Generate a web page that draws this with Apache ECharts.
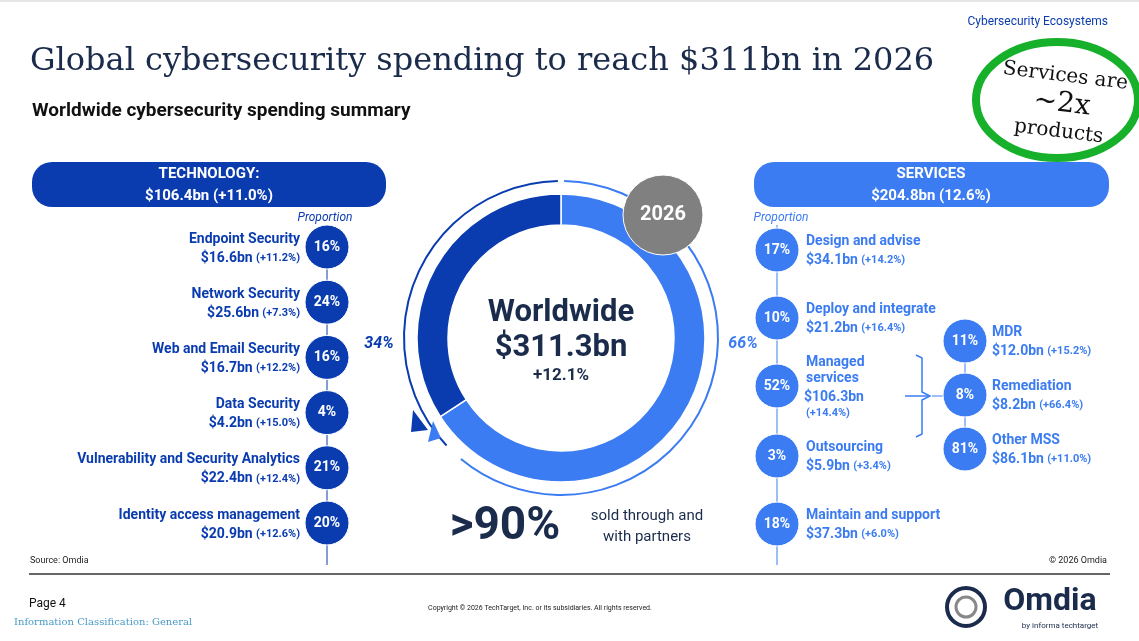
<!DOCTYPE html>
<html><head><meta charset="utf-8">
<script src="https://cdn.jsdelivr.net/npm/echarts@6/dist/echarts.min.js"></script>
<style>html,body{margin:0;padding:0;background:#fff}#c{width:1139px;height:641px}</style>
</head><body><div id="c"></div>
<script>
const segNames = ['Services', 'Technology'];
const segValues = [204.8, 106.4];
const segPct = ['66%', '34%'];
const techNames = ['Endpoint Security','Network Security','Web and Email Security','Data Security','Vulnerability and Security Analytics','Identity access management'];
const techValues = ['$16.6bn','$25.6bn','$16.7bn','$4.2bn','$22.4bn','$20.9bn'];
const techGrowth = ['(+11.2%)','(+7.3%)','(+12.2%)','(+15.0%)','(+12.4%)','(+12.6%)'];
const techProp = ['16%','24%','16%','4%','21%','20%'];
const svcNames = ['Design and advise','Deploy and integrate','Managed\nservices','Outsourcing','Maintain and support'];
const svcValues = ['$34.1bn','$21.2bn','$106.3bn','$5.9bn','$37.3bn'];
const svcGrowth = ['(+14.2%)','(+16.4%)','(+14.4%)','(+3.4%)','(+6.0%)'];
const svcProp = ['17%','10%','52%','3%','18%'];
const mssNames = ['MDR','Remediation','Other MSS'];
const mssValues = ['$12.0bn','$8.2bn','$86.1bn'];
const mssGrowth = ['(+15.2%)','(+66.4%)','(+11.0%)'];
const mssProp = ['11%','8%','81%'];

const DARK='#0A3CB0', LIGHT='#3B7CF2', NAVY='#1B2B4B', F='Roboto, "Noto Sans", sans-serif';
const g=[];
function txt(x,y,text,size,color,weight,align,extra){g.push(Object.assign({type:'text',x:x,y:y,style:{text:text,font:(weight||'normal')+' '+size+'px '+F,fill:color,textAlign:align||'left',textVerticalAlign:'middle'}},extra||{}));}
function rich(x,y,val,gr,color,align){g.push({type:'text',x:x,y:y,style:{text:'{a|'+val+'} {b|'+gr+'}',textAlign:align,textVerticalAlign:'middle',rich:{a:{font:'bold 14px '+F,fill:color},b:{font:'bold 11px '+F,fill:color}}}});}
function bub(x,y,r,t,color){g.push({type:'circle',shape:{cx:x,cy:y,r:r},style:{fill:color,stroke:'#fff',lineWidth:1}});txt(x,y,t,14,'#fff','bold','center');}

// header
g.push({type:'line',shape:{x1:0,y1:1,x2:1139,y2:1},style:{stroke:'#ccc'}});
txt(1108,22,'Cybersecurity Ecosystems',12,DARK,'normal','right');
g.push({type:'text',x:30,y:62,style:{text:'Global cybersecurity spending to reach $311bn in 2026',font:'32px "DejaVu Serif", serif',fill:NAVY,textVerticalAlign:'middle'}});
txt(32,111,'Worldwide cybersecurity spending summary',19,'#111','bold');
// green annotation
g.push({type:'ellipse',shape:{cx:1057,cy:100,rx:81,ry:58},style:{fill:'none',stroke:'#17B02A',lineWidth:8}});
g.push({type:'text',x:1062,y:104,rotation:-0.12,style:{text:'{s|Services are}\n{b|~2x}\n{s|products}',textAlign:'center',textVerticalAlign:'middle',rich:{s:{font:'20px "DejaVu Serif", serif',fill:'#111',lineHeight:26,align:'center'},b:{font:'28px "DejaVu Serif", serif',fill:'#111',lineHeight:30,align:'center'}}}});

// banners
g.push({type:'rect',shape:{x:32,y:162,width:354,height:45,r:20},style:{fill:DARK}});
txt(209,174,'TECHNOLOGY:',15,'#fff','bold','center');txt(209,196,'$106.4bn (+11.0%)',15,'#fff','bold','center');
g.push({type:'rect',shape:{x:754,y:162,width:355,height:45,r:20},style:{fill:LIGHT}});
txt(931,174,'SERVICES',15,'#fff','bold','center');txt(931,196,'$204.8bn (12.6%)',15,'#fff','bold','center');
g.push({type:'text',x:325,y:218,style:{text:'Proportion',font:'italic 12px '+F,fill:DARK,textAlign:'center',textVerticalAlign:'middle'}});
g.push({type:'text',x:781,y:218,style:{text:'Proportion',font:'italic 12px '+F,fill:LIGHT,textAlign:'center',textVerticalAlign:'middle'}});

// tech list
g.push({type:'line',shape:{x1:327,y1:225,x2:327,y2:565},style:{stroke:DARK,lineWidth:1}});
techNames.forEach((n,i)=>{const y=247+i*55.2;bub(327,y,22,techProp[i],DARK);txt(300,y-8,n,14,DARK,'bold','right');rich(300,y+11,techValues[i],techGrowth[i],DARK,'right');});

// services list
const sy=[250,318,386,456,524];
g.push({type:'line',shape:{x1:777,y1:225,x2:777,y2:565},style:{stroke:LIGHT,lineWidth:1}});
svcNames.forEach((n,i)=>{const y=sy[i];bub(777,y,22,svcProp[i],LIGHT);
 if(i===2){txt(806,362,'Managed',14,LIGHT,'bold');txt(806,378,'services',14,LIGHT,'bold');txt(804,397,svcValues[i],14,LIGHT,'bold');txt(806,413,svcGrowth[i],11,LIGHT,'bold');}
 else{txt(806,y-9,n,14,LIGHT,'bold');rich(806,y+10,svcValues[i],svcGrowth[i],LIGHT,'left');}});
// brace
g.push({type:'polyline',shape:{points:[[916,355],[922,358],[922,392],[930,396],[922,400],[922,434],[916,437]]},style:{stroke:LIGHT,lineWidth:1.5,fill:'none'}});
g.push({type:'line',shape:{x1:905,y1:396,x2:930,y2:396},style:{stroke:LIGHT,lineWidth:1.5}});
g.push({type:'line',shape:{x1:932,y1:396,x2:943,y2:396},style:{stroke:LIGHT}});
g.push({type:'line',shape:{x1:965,y1:320,x2:965,y2:470},style:{stroke:LIGHT}});
mssNames.forEach((n,i)=>{const y=341+i*54;bub(965,y,22,mssProp[i],LIGHT);txt(992,y-9,n,14,LIGHT,'bold');rich(992,y+10,mssValues[i],mssGrowth[i],LIGHT,'left');});

// donut arcs & labels
g.push({type:'arc',shape:{cx:561,cy:338,r:157,startAngle:-Math.PI/2+0.02,endAngle:Math.PI*0.72},style:{stroke:LIGHT,lineWidth:2,fill:'none'}});
g.push({type:'arc',shape:{cx:561,cy:338,r:157,startAngle:Math.PI*0.76,endAngle:Math.PI*1.5-0.02},style:{stroke:DARK,lineWidth:2,fill:'none'}});
g.push({type:'polygon',shape:{points:[[413,410],[428,430],[411,432]]},style:{fill:DARK}});
g.push({type:'polygon',shape:{points:[[433,421],[428,442],[441,438]]},style:{fill:LIGHT}});
g.push({type:'text',x:379,y:344,style:{text:segPct[1],font:'italic bold 16px '+F,fill:DARK,textAlign:'center',textVerticalAlign:'middle'}});
g.push({type:'text',x:743,y:344,style:{text:segPct[0],font:'italic bold 16px '+F,fill:LIGHT,textAlign:'center',textVerticalAlign:'middle'}});
txt(561,313,'Worldwide',31,NAVY,'bold','center');
txt(561,348,'$311.3bn',31,NAVY,'bold','center');
txt(561,376,'+12.1%',17,NAVY,'bold','center');
g.push({type:'circle',z:10,shape:{cx:663,cy:215,r:40},style:{fill:'#808080',stroke:'#fff',lineWidth:1}});
g.push({type:'text',z:11,x:663,y:215,style:{text:'2026',font:'bold 20px '+F,fill:'#fff',textAlign:'center',textVerticalAlign:'middle'}});
txt(505,527,'>90%',46,NAVY,'bold','center');
txt(647,516,'sold through and',15,NAVY,'normal','center');
txt(647,537,'with partners',15,NAVY,'normal','center');

// footer
txt(30,561,'Source: Omdia',9,'#222');
txt(1107,561,'© 2026 Omdia',9,'#222','normal','right');
g.push({type:'line',shape:{x1:29,y1:574,x2:1110,y2:574},style:{stroke:'#333',lineWidth:1.5}});
txt(29,604,'Page 4',12,'#111');
g.push({type:'text',x:14,y:622,style:{text:'Information Classification: General',font:'10px "DejaVu Serif", serif',fill:'#4A9AC8',textVerticalAlign:'middle'}});
txt(540,608,'Copyright © 2026 TechTarget, Inc. or its subsidiaries. All rights reserved.',7,'#222','normal','center');
g.push({type:'circle',shape:{cx:966,cy:607,r:19},style:{fill:'none',stroke:NAVY,lineWidth:4}});
g.push({type:'circle',shape:{cx:966,cy:607,r:10},style:{fill:'none',stroke:'#888',lineWidth:3}});
txt(1050,602,'Omdia',32,NAVY,'bold','center');
txt(1060,626,'by informa techtarget',8,NAVY,'normal','center');

const chart=echarts.init(document.getElementById('c'));
chart.setOption({
 animation:false,
 series:[{type:'pie',center:[561,338],radius:[113,144],startAngle:90,clockwise:true,label:{show:false},silent:true,
  itemStyle:{borderColor:'#fff',borderWidth:1.5},
  data:segNames.map((n,i)=>({name:n,value:segValues[i],itemStyle:{color:i===0?LIGHT:DARK}}))}],
 graphic:{elements:g}
});
</script></body></html>
